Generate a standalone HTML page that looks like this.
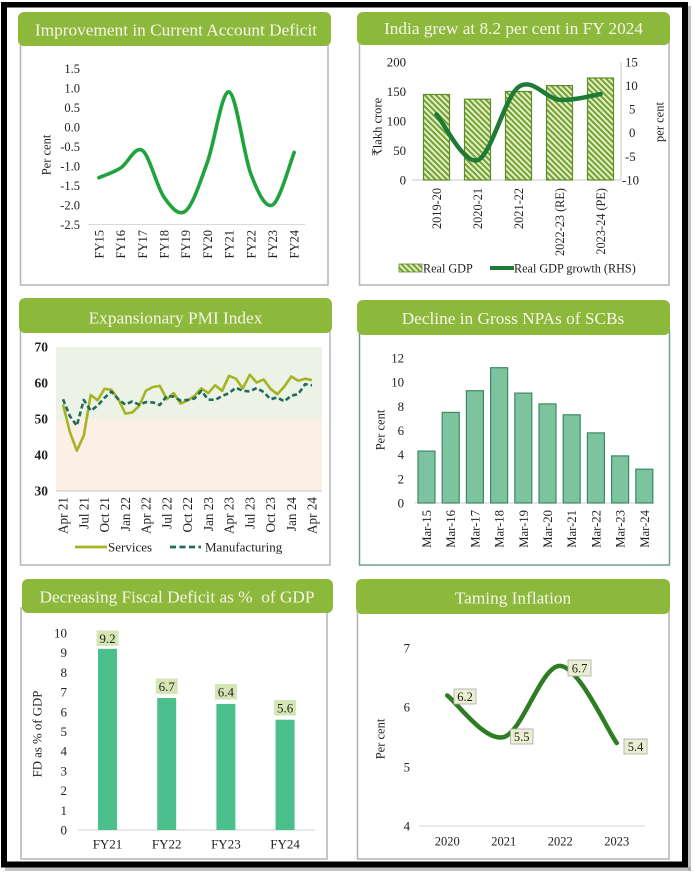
<!DOCTYPE html>
<html><head><meta charset="utf-8"><style>
html,body{margin:0;padding:0;background:#fff;}
svg{display:block;}
text{font-family:"Liberation Serif","DejaVu Serif",serif;fill:#222;}
.t{fill:#f6f6e8;font-size:17.3px;text-anchor:middle;}
</style></head><body>
<svg width="694" height="876" viewBox="0 0 694 876" xmlns="http://www.w3.org/2000/svg">
<defs>
<pattern id="hatch" width="4" height="4" patternUnits="userSpaceOnUse" patternTransform="rotate(-45)">
<rect width="4" height="4" fill="#e6eec6"/>
<rect width="2" height="4" fill="#72a232"/>
</pattern>
</defs>
<rect width="694" height="876" fill="#fff"/>

<!-- ========== Panel 1: CAD ========== -->
<rect x="20.5" y="40" width="307.5" height="245" fill="#fff" stroke="#b4b4b4" stroke-width="1.5"/>
<rect x="18" y="12" width="313" height="34" rx="6" fill="#8cb83c"/>
<text class="t" x="176" y="35.5">Improvement in Current Account Deficit</text>
<g font-size="12.5" text-anchor="end">
<text x="80" y="73">1.5</text><text x="80" y="92.5">1.0</text><text x="80" y="112">0.5</text><text x="80" y="131.5">0.0</text><text x="80" y="151">-0.5</text><text x="80" y="170.5">-1.0</text><text x="80" y="190">-1.5</text><text x="80" y="209.5">-2.0</text><text x="80" y="229">-2.5</text>
</g>
<line x1="88" y1="224.5" x2="305" y2="224.5" stroke="#d9d9d9" stroke-width="1"/>
<g font-size="12.5" text-anchor="end">
<text transform="translate(103.4,230) rotate(-90)">FY15</text>
<text transform="translate(125.1,230) rotate(-90)">FY16</text>
<text transform="translate(146.8,230) rotate(-90)">FY17</text>
<text transform="translate(168.5,230) rotate(-90)">FY18</text>
<text transform="translate(190.2,230) rotate(-90)">FY19</text>
<text transform="translate(211.9,230) rotate(-90)">FY20</text>
<text transform="translate(233.6,230) rotate(-90)">FY21</text>
<text transform="translate(255.3,230) rotate(-90)">FY22</text>
<text transform="translate(277.0,230) rotate(-90)">FY23</text>
<text transform="translate(298.7,230) rotate(-90)">FY24</text>
</g>
<text font-size="12.5" text-anchor="middle" transform="translate(50.5,155) rotate(-90)">Per cent</text>
<path d="M98.9,177.7 C102.5,176.1 113.4,172.6 120.6,168 C127.8,163.45 135.1,145.5 142.3,150.4 C149.5,155.3 156.8,187.1 164,197.2 C171.2,207.3 178.5,216.8 185.7,210.9 C192.9,205.05 200.2,181.9 207.4,162.1 C214.6,142.3 221.9,89.95 229.1,91.9 C236.3,93.85 243.6,154.95 250.8,173.8 C258,192.65 265.3,208.57 272.5,205 C279.7,201.4 290.6,161.2 294.2,152.4" fill="none" stroke="#20a33d" stroke-width="3.6" stroke-linecap="round"/>

<!-- ========== Panel 2: GDP ========== -->
<rect x="359.5" y="40" width="309.5" height="245" fill="#fff" stroke="#b4b4b4" stroke-width="1.5"/>
<rect x="357" y="12" width="313" height="33" rx="6" fill="#8cb83c"/>
<text class="t" x="513.5" y="34">India grew at 8.2 per cent in FY 2024</text>
<g font-size="12.8" text-anchor="end">
<text x="406" y="66.5">200</text><text x="406" y="96">150</text><text x="406" y="125.5">100</text><text x="406" y="155">50</text><text x="406" y="184.5">0</text>
</g>
<g font-size="12.8" text-anchor="start">
<text x="625" y="66.5">15</text><text x="625" y="90">10</text><text x="629" y="113.5">5</text><text x="629" y="137">0</text><text x="625" y="161">-5</text><text x="622" y="184.5">-10</text>
</g>
<line x1="412" y1="180" x2="621" y2="180" stroke="#c8c8c8" stroke-width="1"/>
<line x1="621" y1="62" x2="621" y2="180" stroke="#c8c8c8" stroke-width="1"/>
<g fill="url(#hatch)" stroke="#5e8c2a" stroke-width="1.2">
<rect x="423.5" y="94.5" width="26" height="85.5"/>
<rect x="464.5" y="99.2" width="26" height="80.8"/>
<rect x="505.5" y="91.5" width="26" height="88.5"/>
<rect x="546.5" y="85.6" width="26" height="94.4"/>
<rect x="587.5" y="78" width="26" height="102"/>
</g>
<path d="M436.5,114.4 C443.3,122 463.8,164.8 477.5,160.2 C491.2,155.6 504.8,97.1 518.5,87 C532.2,76.9 545.8,98.6 559.5,99.8 C573.2,101 593.7,95.05 600.5,94.1" fill="none" stroke="#1f7a35" stroke-width="4.5" stroke-linecap="round"/>
<g font-size="12.3" text-anchor="end">
<text transform="translate(441,188) rotate(-90)">2019-20</text>
<text transform="translate(482,188) rotate(-90)">2020-21</text>
<text transform="translate(523,188) rotate(-90)">2021-22</text>
<text transform="translate(564,188) rotate(-90)">2022-23 (RE)</text>
<text transform="translate(605,188) rotate(-90)">2023-24 (PE)</text>
</g>
<text font-size="12.5" text-anchor="middle" transform="translate(381.5,127) rotate(-90)">₹lakh crore</text>
<text font-size="12.5" text-anchor="middle" transform="translate(663.5,122) rotate(-90)">per cent</text>
<rect x="399" y="264" width="23" height="8" fill="url(#hatch)" stroke="#5e8c2a" stroke-width="0.8"/>
<text font-size="12.2" x="423" y="272.5">Real GDP</text>
<line x1="490" y1="268" x2="514" y2="268" stroke="#1f7a35" stroke-width="4"/>
<text font-size="12.2" x="514" y="272.5">Real GDP growth (RHS)</text>

<!-- ========== Panel 3: PMI ========== -->
<rect x="20.5" y="328" width="309.5" height="237" fill="#fff" stroke="#b4b4b4" stroke-width="1.5"/>
<rect x="19" y="298" width="313" height="35" rx="6" fill="#8cb83c"/>
<text class="t" x="175.5" y="323.5">Expansionary PMI Index</text>
<rect x="56" y="347" width="266" height="72" fill="#edf2e6"/>
<rect x="56" y="419" width="266" height="72" fill="#fcefe5"/>
<g font-size="13.5" text-anchor="end" style="font-weight:600">
<text x="48" y="351.5">70</text><text x="48" y="387.5">60</text><text x="48" y="423.5">50</text><text x="48" y="459.5">40</text><text x="48" y="495.5">30</text>
</g>
<line x1="56" y1="491" x2="322" y2="491" stroke="#c8c8c8" stroke-width="1"/>
<polyline fill="none" stroke="#a4b422" stroke-width="2.6" stroke-linejoin="round" points="63,404.6 69.9,432 76.8,450.7 83.8,435.6 90.7,394.9 97.6,400.3 104.5,388.8 111.4,389.8 118.3,399.2 125.3,413.6 132.2,412.5 139.1,406 146,390.6 152.9,387 159.8,385.9 166.8,399.2 173.7,393.1 180.6,403.5 187.5,400.6 194.4,396 201.3,388.4 208.3,393.1 215.2,385.2 222.1,390.9 229,375.8 235.9,378.7 242.8,388.4 249.8,374.7 256.7,382.6 263.6,379.4 270.5,388.8 277.4,394.2 284.3,386.6 291.3,376.5 298.2,380.8 305.1,378.7 312,380.1"/>
<polyline fill="none" stroke="#1d6b5b" stroke-width="2.6" stroke-dasharray="5,3" stroke-linejoin="round" points="63,399.2 69.9,416.1 76.8,425.8 83.8,399.9 90.7,410.7 97.6,405.7 104.5,397.8 111.4,391.6 118.3,399.2 125.3,404.6 132.2,401.4 139.1,404.6 146,402.1 152.9,402.4 159.8,405 166.8,396 173.7,396.7 180.6,400.6 187.5,399.9 194.4,398.5 201.3,390.9 208.3,399.6 215.2,399.9 222.1,396 229,393.1 235.9,387.7 242.8,390.9 249.8,391.3 256.7,388 263.6,392 270.5,399.2 277.4,397.4 284.3,401.4 291.3,395.6 298.2,394.2 305.1,384.2 312,385.3"/>
<g font-size="13.2" text-anchor="end">
<text transform="translate(67.7,497) rotate(-90)">Apr 21</text>
<text transform="translate(88.5,497) rotate(-90)">Jul 21</text>
<text transform="translate(109.2,497) rotate(-90)">Oct 21</text>
<text transform="translate(130,497) rotate(-90)">Jan 22</text>
<text transform="translate(150.7,497) rotate(-90)">Apr 22</text>
<text transform="translate(171.5,497) rotate(-90)">Jul 22</text>
<text transform="translate(192.2,497) rotate(-90)">Oct 22</text>
<text transform="translate(213,497) rotate(-90)">Jan 23</text>
<text transform="translate(233.7,497) rotate(-90)">Apr 23</text>
<text transform="translate(254.5,497) rotate(-90)">Jul 23</text>
<text transform="translate(275.2,497) rotate(-90)">Oct 23</text>
<text transform="translate(296,497) rotate(-90)">Jan 24</text>
<text transform="translate(316.7,497) rotate(-90)">Apr 24</text>
</g>
<line x1="75" y1="547" x2="107" y2="547" stroke="#a4b422" stroke-width="2.8"/>
<text font-size="13" x="108" y="551.5">Services</text>
<line x1="170" y1="547" x2="201" y2="547" stroke="#1d6b5b" stroke-width="2.8" stroke-dasharray="6,3.5"/>
<text font-size="13" x="205" y="551.5">Manufacturing</text>

<!-- ========== Panel 4: NPA ========== -->
<rect x="359.5" y="330" width="310" height="235" fill="#fff" stroke="#6fa08a" stroke-width="1.5"/>
<rect x="357" y="300" width="313" height="35" rx="6" fill="#8cb83c"/>
<text class="t" x="513" y="324">Decline in Gross NPAs of SCBs</text>
<g font-size="12.8" text-anchor="end">
<text x="404" y="362.5">12</text><text x="404" y="386.7">10</text><text x="404" y="410.9">8</text><text x="404" y="435">6</text><text x="404" y="459.2">4</text><text x="404" y="483.3">2</text><text x="404" y="507.5">0</text>
</g>
<line x1="415" y1="503" x2="655" y2="503" stroke="#cfcfcf" stroke-width="1"/>
<g fill="#7ec3a0" stroke="#3c8a62" stroke-width="1.2">
<rect x="418" y="451.1" width="17" height="51.9"/>
<rect x="442.2" y="412.4" width="17" height="90.6"/>
<rect x="466.4" y="390.7" width="17" height="112.3"/>
<rect x="490.6" y="367.7" width="17" height="135.3"/>
<rect x="514.8" y="393.1" width="17" height="109.9"/>
<rect x="539" y="403.9" width="17" height="99.1"/>
<rect x="563.2" y="414.8" width="17" height="88.2"/>
<rect x="587.4" y="432.9" width="17" height="70.1"/>
<rect x="611.6" y="455.9" width="17" height="47.1"/>
<rect x="635.8" y="469.2" width="17" height="33.8"/>
</g>
<g font-size="12.7" text-anchor="end">
<text transform="translate(431,510) rotate(-90)">Mar-15</text>
<text transform="translate(455.2,510) rotate(-90)">Mar-16</text>
<text transform="translate(479.4,510) rotate(-90)">Mar-17</text>
<text transform="translate(503.6,510) rotate(-90)">Mar-18</text>
<text transform="translate(527.8,510) rotate(-90)">Mar-19</text>
<text transform="translate(552,510) rotate(-90)">Mar-20</text>
<text transform="translate(576.2,510) rotate(-90)">Mar-21</text>
<text transform="translate(600.4,510) rotate(-90)">Mar-22</text>
<text transform="translate(624.6,510) rotate(-90)">Mar-23</text>
<text transform="translate(648.8,510) rotate(-90)">Mar-24</text>
</g>
<text font-size="12.5" text-anchor="middle" transform="translate(384.5,430) rotate(-90)">Per cent</text>

<!-- ========== Panel 5: Fiscal Deficit ========== -->
<rect x="21" y="608" width="306" height="251" fill="#fff" stroke="#b4b4b4" stroke-width="1.5"/>
<rect x="22" y="579" width="311" height="34" rx="6" fill="#8cb83c"/>
<text class="t" x="177" y="602.7">Decreasing Fiscal Deficit as %&#160; of GDP</text>
<g font-size="13" text-anchor="end">
<text x="67" y="637.5">10</text><text x="67" y="657.2">9</text><text x="67" y="676.9">8</text><text x="67" y="696.6">7</text><text x="67" y="716.3">6</text><text x="67" y="736">5</text><text x="67" y="755.7">4</text><text x="67" y="775.4">3</text><text x="67" y="795.1">2</text><text x="67" y="814.8">1</text><text x="67" y="834.5">0</text>
</g>
<line x1="78" y1="830" x2="315" y2="830" stroke="#d0d0d0" stroke-width="1"/>
<g fill="#4cc08c">
<rect x="98" y="648.8" width="19" height="181.2"/>
<rect x="157.2" y="698" width="19" height="132"/>
<rect x="216.4" y="703.9" width="19" height="126.1"/>
<rect x="275.6" y="719.7" width="19" height="110.3"/>
</g>
<g fill="#d5e6b4">
<rect x="96.5" y="630.5" width="22" height="15.5"/>
<rect x="155.7" y="678.5" width="22" height="15.5"/>
<rect x="214.9" y="684" width="22" height="15.5"/>
<rect x="274.1" y="700" width="22" height="15.5"/>
</g>
<g font-size="13" text-anchor="middle">
<text x="107.5" y="643">9.2</text>
<text x="166.7" y="691">6.7</text>
<text x="225.9" y="696.5">6.4</text>
<text x="285.1" y="712.5">5.6</text>
<text x="107.5" y="848.5">FY21</text>
<text x="166.7" y="848.5">FY22</text>
<text x="225.9" y="848.5">FY23</text>
<text x="285.1" y="848.5">FY24</text>
</g>
<text font-size="12.8" text-anchor="middle" transform="translate(41.5,734) rotate(-90)">FD as % of GDP</text>

<!-- ========== Panel 6: Inflation ========== -->
<rect x="357.5" y="609" width="311.5" height="250" fill="#fff" stroke="#b4b4b4" stroke-width="1.5"/>
<rect x="356" y="579" width="314" height="35" rx="6" fill="#8cb83c"/>
<text class="t" x="513" y="603.3">Taming Inflation</text>
<g font-size="12.8" text-anchor="end">
<text x="410" y="652.5">7</text><text x="410" y="711.5">6</text><text x="410" y="771.5">5</text><text x="410" y="830.5">4</text>
</g>
<line x1="419" y1="826" x2="645" y2="826" stroke="#d9d9d9" stroke-width="1"/>
<path d="M447.25,695.5 C456.7,702.4 484.9,742 503.75,737.05 C522.6,732.1 541.4,664.9 560.25,665.9 C579.1,666.9 607.3,730.2 616.75,743" fill="none" stroke="#2e7d22" stroke-width="4.5" stroke-linecap="round"/>
<g fill="#e9efd0" stroke="#a8a8a8" stroke-width="0.8">
<rect x="454" y="689" width="22" height="15"/>
<rect x="510.5" y="729" width="22.5" height="15"/>
<rect x="568" y="660" width="23" height="16"/>
<rect x="624" y="739" width="23" height="15"/>
</g>
<g font-size="12.5" text-anchor="middle">
<text x="465" y="701">6.2</text>
<text x="521.7" y="741">5.5</text>
<text x="579.5" y="672.5">6.7</text>
<text x="635.5" y="751">5.4</text>
<text x="447.25" y="845.5">2020</text>
<text x="503.75" y="845.5">2021</text>
<text x="560.25" y="845.5">2022</text>
<text x="616.75" y="845.5">2023</text>
</g>
<text font-size="12.5" text-anchor="middle" transform="translate(384.5,739) rotate(-90)">Per cent</text>

<!-- ========== Outer black frame ========== -->
<rect x="688" y="6" width="3" height="865" fill="#9a9a9a" opacity="0.6"/>
<rect x="5" y="867" width="686" height="4" fill="#9a9a9a" opacity="0.6"/>
<rect x="1" y="2" width="687" height="5.5" fill="#000"/>
<rect x="1" y="2" width="6" height="865" fill="#000"/>
<rect x="682" y="2" width="6" height="865" fill="#000"/>
<rect x="1" y="861.5" width="687" height="6" fill="#000"/>
</svg>
</body></html>
